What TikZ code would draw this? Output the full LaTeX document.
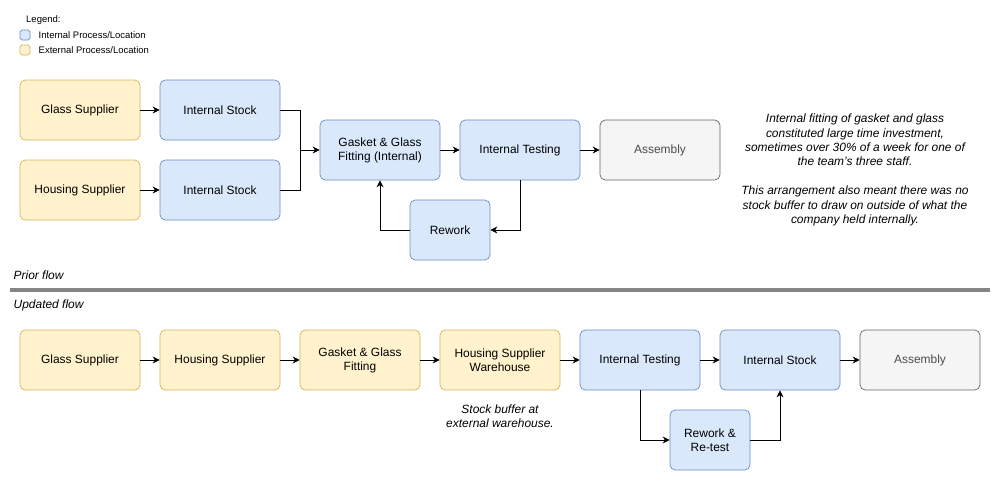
\documentclass[tikz,border=0pt]{standalone}
\usepackage{fontspec}
\setmainfont{Liberation Sans}
\usetikzlibrary{positioning,arrows.meta}

\definecolor{intfill}{HTML}{DAE8FC}
\definecolor{intdraw}{HTML}{6C8EBF}
\definecolor{extfill}{HTML}{FFF2CC}
\definecolor{extdraw}{HTML}{D6B656}
\definecolor{asmfill}{HTML}{F5F5F5}
\definecolor{asmdraw}{HTML}{666666}

\tikzset{
    box/.style={rectangle, rounded corners=3pt, minimum width=2.4cm, minimum height=1.2cm,
        align=center, font=\fontsize{6.8}{8}\selectfont},
    int/.style={box, fill=intfill, draw=intdraw},
    ext/.style={box, fill=extfill, draw=extdraw},
    asm/.style={box, fill=asmfill, draw=asmdraw, text=black!70},
    small/.style={box, minimum width=1.6cm},
    note/.style={align=center, font=\fontsize{6.8}{8.2}\selectfont\itshape},
    flow/.style={->, >={Stealth[length=4pt,width=4pt]}}
}

\begin{document}
\begin{tikzpicture}[%
    node distance=2.8cm,
    on grid
    ]
    \useasboundingbox (0,0) rectangle (20,9.8);

    % legend
    \node[anchor=west, font=\fontsize{5.4}{6}\selectfont] (leg) at (0.4,9.4) {Legend:};
    \node[rectangle, rounded corners=1pt, minimum size=0.2cm, fill=intfill, draw=intdraw, inner sep=0pt] (legi) at (0.5,9.1) {};
    \node[anchor=west, font=\fontsize{5.4}{6}\selectfont] at (0.65,9.1) {Internal Process/Location};
    \node[rectangle, rounded corners=1pt, minimum size=0.2cm, fill=extfill, draw=extdraw, inner sep=0pt] (lege) at (0.5,8.8) {};
    \node[anchor=west, font=\fontsize{5.4}{6}\selectfont] at (0.65,8.8) {External Process/Location};

    % prior flow
    \node[ext] (gs1) at (1.6,7.6) {Glass Supplier};
    \node[int] (is1) [right=of gs1] {Internal Stock};
    \node[ext] (hs1) at (1.6,6.0) {Housing Supplier};
    \node[int] (is2) [right=of hs1] {Internal Stock};
    \node[int] (fit) at (7.6,6.8) {Gasket \& Glass\\Fitting (Internal)};
    \node[int] (test1) [right=of fit] {Internal Testing};
    \node[asm] (asm1) [right=of test1] {Assembly};
    \node[int, small] (rw1) at (9.0,5.2) {Rework};
    \coordinate (join) at (6.0,6.8);

    \node[note] (txt1) at (17.1,6.4) {Internal fitting of gasket and glass\\constituted large time investment,\\sometimes over 30\% of a week for one of\\the team's three staff.\\[8.2pt]This arrangement also meant there was no\\stock buffer to draw on outside of what the\\company held internally.};

    \draw[flow] (gs1) -- (is1);
    \draw[flow] (hs1) -- (is2);
    \draw (is1.east) -| (join);
    \draw (is2.east) -| (join);
    \draw[flow] (join) -- (fit);
    \draw[flow] (fit) -- (test1);
    \draw[flow] (test1) -- (asm1);
    \draw[flow] (test1.south) |- (rw1.east);
    \draw[flow] (rw1.west) -| (fit.south);

    % divider
    \node[anchor=west, note] (prior) at (0.15,4.3) {Prior flow};
    \draw[line width=2pt, asmdraw!80] (0.2,4.0) -- (19.8,4.0);
    \node[anchor=west, note] (upd) at (0.15,3.7) {Updated flow};

    % updated flow
    \node[ext] (gs2) at (1.6,2.6) {Glass Supplier};
    \node[ext] (hs2) [right=of gs2] {Housing Supplier};
    \node[ext] (fit2) [right=of hs2] {Gasket \& Glass\\Fitting};
    \node[ext] (wh) [right=of fit2] {Housing Supplier\\Warehouse};
    \node[int] (test2) [right=of wh] {Internal Testing};
    \node[int] (is3) [right=of test2] {Internal Stock};
    \node[asm] (asm2) [right=of is3] {Assembly};
    \node[int, small] (rw2) at (14.2,1.0) {Rework \&\\Re-test};
    \node[note] (txt2) at (10.0,1.48) {Stock buffer at\\external warehouse.};

    \draw[flow] (gs2) -- (hs2);
    \draw[flow] (hs2) -- (fit2);
    \draw[flow] (fit2) -- (wh);
    \draw[flow] (wh) -- (test2);
    \draw[flow] (test2) -- (is3);
    \draw[flow] (is3) -- (asm2);
    \draw[flow] (test2.south) |- (rw2.west);
    \draw[flow] (rw2.east) -| (is3.south);

\end{tikzpicture}
\end{document}
